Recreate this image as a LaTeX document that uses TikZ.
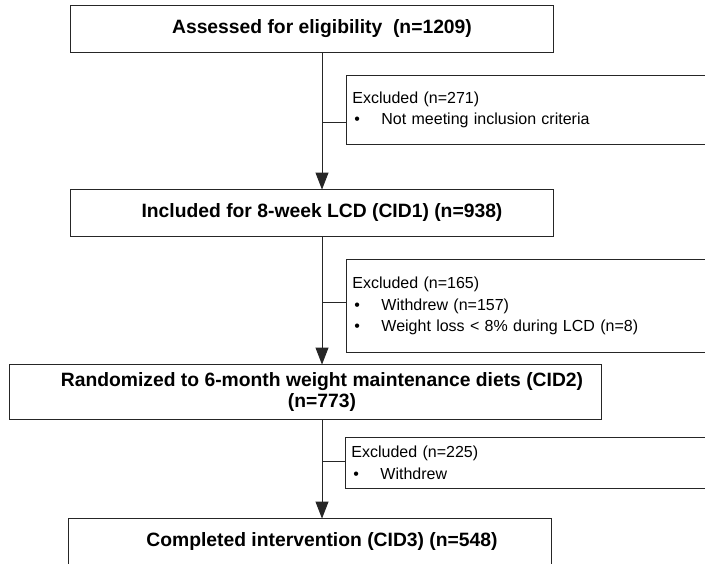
\documentclass[tikz,border=0pt]{standalone}
\usepackage{fontspec}
\setmainfont{Liberation Sans}
\usetikzlibrary{arrows.meta,positioning,calc}
\tikzset{every picture/.style={line width=0.9pt}}
\tikzstyle{stage}=[rectangle,inner sep=0pt,align=center,
  font=\fontsize{19.3}{21}\selectfont\bfseries]
\tikzstyle{excl}=[draw=black!85,rectangle,anchor=north west,inner xsep=6pt,
  inner ysep=0pt,text width=368pt,align=left,font=\fontsize{16}{21.5}\selectfont]
\newcommand{\itm}[1]{\makebox[29pt][l]{\hspace{2pt}\textbullet}#1}

\begin{document}
\begin{tikzpicture}[x=1pt,y=-1pt]
\useasboundingbox (0,0) rectangle (705,563);
\clip (0,0) rectangle (705,563);
% main stages
\node[stage,minimum height=46pt] (A) at (322,29) {Assessed for eligibility\ \ (n=1209)};
\node[stage,minimum height=46pt] (B) at (322,213) {Included for 8-week LCD (CID1) (n=938)};
\node[stage,minimum height=54pt] (C) at (322,392) {Randomized to 6-month weight maintenance diets (CID2)\\(n=773)};
\node[stage,minimum height=46pt] (D) at (322,542) {Completed intervention (CID3) (n=548)};
\foreach \n/\l/\w in {A/252/483,B/252/483,C/313/592,D/254/483}
  \draw[black!85] ($(\n.north)+(-\l,0)$) rectangle ($(\n.south)+(\w-\l,0)$);
% exclusions
\node[excl,minimum height=69pt] (E1) at (346,75) {Excluded (n=271)\\\itm{Not meeting inclusion criteria}};
\node[excl,minimum height=93pt] (E2) at (346,259) {Excluded (n=165)\\\itm{Withdrew (n=157)}\\\itm{Weight loss < 8\% during LCD (n=8)}};
\node[excl,minimum height=51pt] (E3) at (345,437) {Excluded (n=225)\\\itm{Withdrew}};
% flow
\path[-{Triangle[length=17pt,width=13pt]},black!85]
(A) edge (B)
(B) edge (C)
(C) edge (D);
\draw[black!85] (A.south |- 0,122) -- (E1.west |- 0,122);
\draw[black!85] (B.south |- 0,302) -- (E2.west |- 0,302);
\draw[black!85] (C.south |- 0,461) -- (E3.west |- 0,461);
\end{tikzpicture}
\end{document}
